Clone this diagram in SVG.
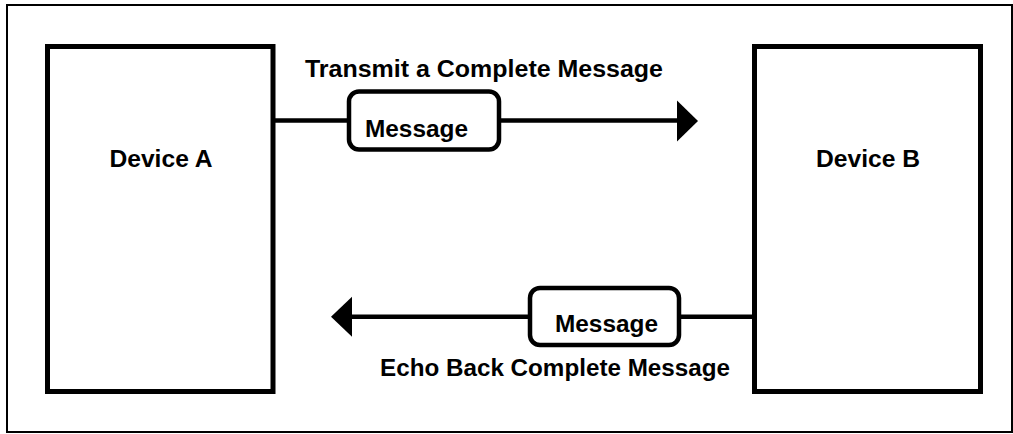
<svg xmlns="http://www.w3.org/2000/svg" width="1013" height="434" viewBox="0 0 1013 434">
<style>
.frame{fill:none;stroke:#000;stroke-width:2}
.dev{fill:#fff;stroke:#000;stroke-width:5}
.msg{fill:#fff;stroke:#000;stroke-width:4.5}
.conn{fill:none;stroke:#000;stroke-width:4.5}
.head{fill:#000;stroke:none}
text{font-family:"Liberation Sans",Arial,sans-serif;font-weight:bold;fill:#000}
.big{font-size:23.5px}
</style>
<rect width="1013" height="434" fill="#fff"/>
<rect class="frame" x="7" y="5" width="1005" height="427"/>
<g id="connectors">
<line class="conn" x1="273" y1="120.5" x2="349" y2="120.5"/>
<line class="conn" x1="499" y1="120.5" x2="679" y2="120.5"/>
<polygon class="head" points="677,100.5 698,121 677,141.5"/>
<line class="conn" x1="754.5" y1="316.7" x2="679" y2="316.7"/>
<line class="conn" x1="530" y1="316.7" x2="350" y2="316.7"/>
<polygon class="head" points="352,296.7 331,316.7 352,336.7"/>
</g>
<g id="deviceA">
<rect class="dev" x="47.5" y="46.5" width="225.5" height="345"/>
<text class="big" x="109.5" y="166.7" textLength="103" lengthAdjust="spacingAndGlyphs">Device A</text>
</g>
<g id="deviceB">
<rect class="dev" x="754.5" y="46.5" width="226" height="345"/>
<text class="big" x="816" y="166.7" textLength="104" lengthAdjust="spacingAndGlyphs">Device B</text>
</g>
<g id="label-transmit">
<text class="big" x="305" y="77.3" textLength="358" lengthAdjust="spacingAndGlyphs">Transmit a Complete Message</text>
</g>
<g id="message1">
<rect class="msg" x="349" y="91.5" width="150" height="58" rx="10"/>
<text class="big" x="365" y="137.3" textLength="103" lengthAdjust="spacingAndGlyphs">Message</text>
</g>
<g id="message2">
<rect class="msg" x="530" y="288" width="149" height="57" rx="10"/>
<text class="big" x="555" y="331.7" textLength="103" lengthAdjust="spacingAndGlyphs">Message</text>
</g>
<g id="label-echo">
<text class="big" x="380" y="376" textLength="350" lengthAdjust="spacingAndGlyphs">Echo Back Complete Message</text>
</g>
</svg>
